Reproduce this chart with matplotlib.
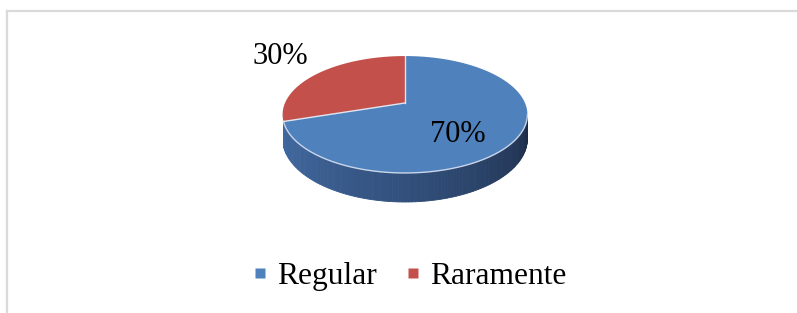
import numpy as np
import matplotlib.pyplot as plt
from matplotlib.patches import Polygon
from matplotlib.lines import Line2D
from matplotlib.colors import to_rgb

labels = ['Regular', 'Raramente']
values = [70, 30]
pct_text = ['70%', '30%']
top_colors = ['#4f81bd', '#c4504c']
side_light = ['#4169a0', '#b04844']
side_dark = ['#1c2c48', '#7a2a28']
label_xy = [(458, 134), (280, 57)]  # label centres in pixels

plt.rcParams['font.family'] = ['Liberation Serif', 'DejaVu Serif']

W, H = 797, 313
fig = plt.figure(figsize=(W / 100, H / 100), dpi=100)
ax = fig.add_axes([0, 0, 1, 1])
ax.set_xlim(0, W)
ax.set_ylim(H, 0)
ax.axis('off')

# geometry of the tilted pie (pixels)
cx, cy = 405, 103
rx, ry = 120, 56.2
k = 0.197      # perspective
depth = 23.3


def proj(u, v, z=0.0):
    s = 1.0 / (1.0 + k * v)
    return cx + rx * u * s, cy - ry * v * s + z * s


def arc(t1, t2, z=0.0, n=80):
    tt = np.radians(np.linspace(t1, t2, n))
    return [proj(np.cos(t), np.sin(t), z) for t in tt]


# slice angles: start at 12 o'clock, clockwise
angles = []
start = 90.0
for val in values:
    sweep = 360.0 * val / sum(values)
    angles.append((start - sweep, start))
    start -= sweep

# visible part of the wall
t_vis0 = 198.0
t_vis1 = 360 - np.degrees(np.arcsin(k))

# side walls
for i, (a1, a2) in enumerate(angles):
    for off in (0, 360, -360):
        lo, hi = max(a1 + off, t_vis0), min(a2 + off, t_vis1)
        if hi <= lo:
            continue
        ts = np.linspace(lo, hi, 120)
        c0, c1 = np.array(to_rgb(side_light[i])), np.array(to_rgb(side_dark[i]))
        for j in range(len(ts) - 1):
            f = ((ts[j] + ts[j + 1]) / 2 - t_vis0) / (t_vis1 - t_vis0)
            f = np.clip(f, 0, 1) ** 1.2
            col = c0 * (1 - f) + c1 * f
            top = arc(ts[j], ts[j + 1], 0, 2)
            bot = arc(ts[j + 1], ts[j], depth, 2)
            ax.add_patch(Polygon(top + bot, closed=True, fc=col, ec=col, lw=0.6))

# top faces
for i, (a1, a2) in enumerate(angles):
    pts = [(cx, cy)] + arc(a1, a2, 0, 200)
    ax.add_patch(Polygon(pts, closed=True, fc=top_colors[i], ec='none'))

# light rims
rim = np.array(arc(t_vis0, t_vis1, 0, 200))
ax.plot(rim[:, 0], rim[:, 1], color='#c9d6ea', lw=1.0)
for a1, a2 in angles:
    ex, ey = proj(np.cos(np.radians(a2)), np.sin(np.radians(a2)))
    ax.plot([cx, ex], [cy, ey], color='#dfe6f0', lw=1.0)

for i, txt in enumerate(pct_text):
    ax.text(label_xy[i][0], label_xy[i][1], txt, fontsize=22,
            ha='center', va='center', color='black')

# chart frame
ax.plot([7, 7], [11, H], color='#dadada', lw=1.6)
ax.plot([7, W], [11, 11], color='#dadada', lw=1.6)

handles = [Line2D([], [], ls='none', marker='s', markersize=7,
                  markerfacecolor=top_colors[i], markeredgecolor='none')
           for i in range(len(labels))]
fig.legend(handles, labels, loc='center', bbox_to_anchor=(0.515, 0.118),
           ncol=2, frameon=False, fontsize=22.7, handlelength=0.35,
           handletextpad=0.35, columnspacing=1.0)

fig.savefig('out.png', dpi=100)
